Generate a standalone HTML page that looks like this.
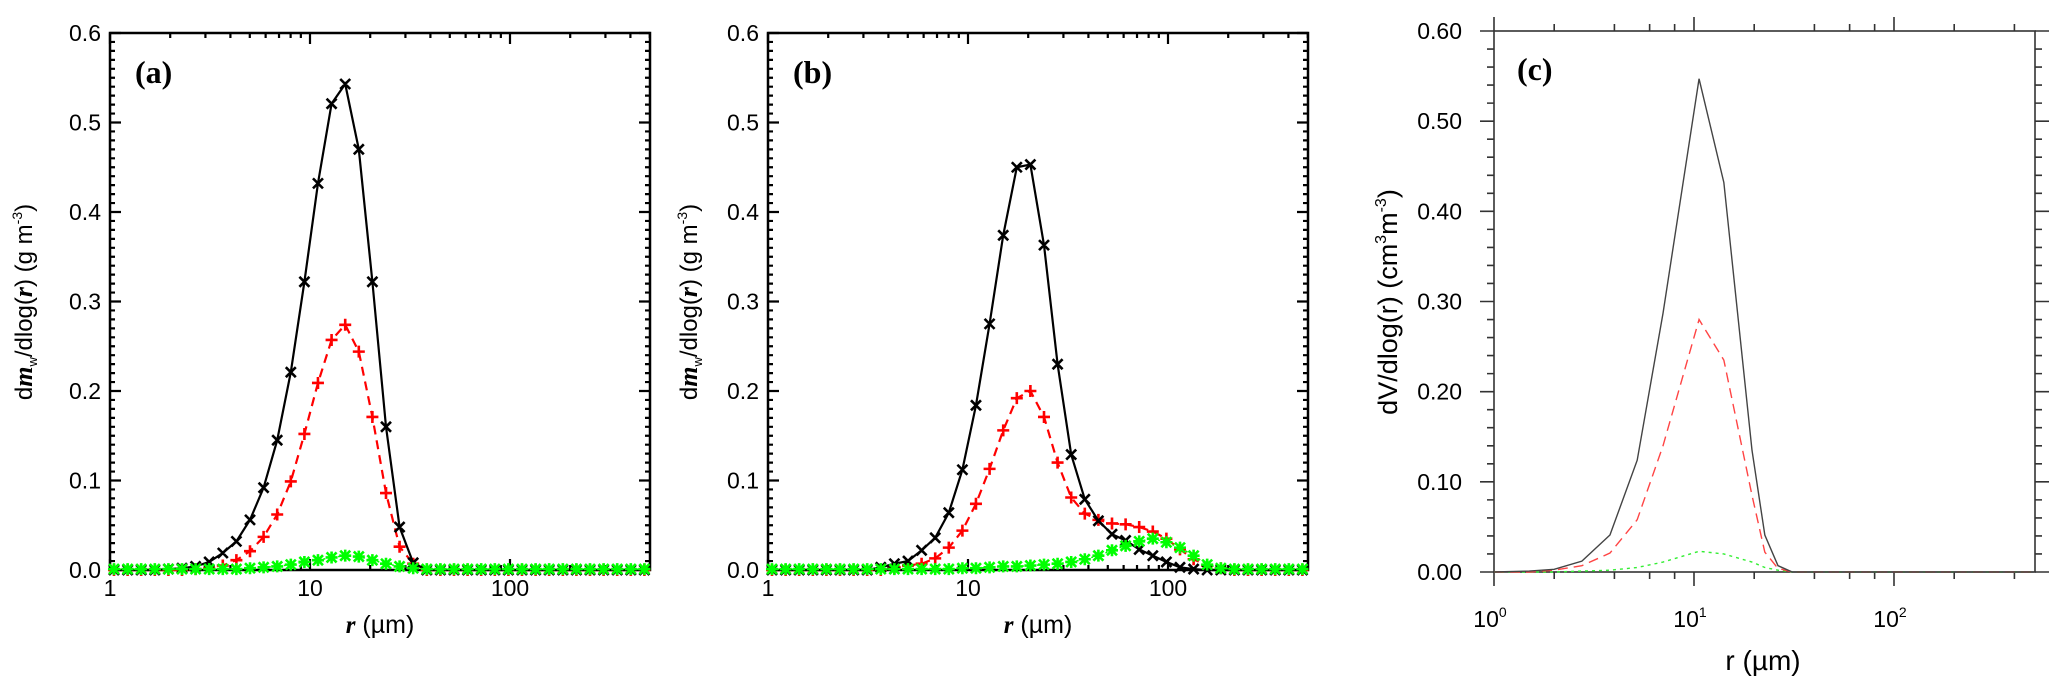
<!DOCTYPE html>
<html><head><meta charset="utf-8"><style>
html,body{margin:0;padding:0;background:#fff;}
svg{display:block;font-family:"Liberation Sans",sans-serif;}
</style></head><body>
<svg id="fig" width="2067" height="694" viewBox="0 0 2067 694" xmlns="http://www.w3.org/2000/svg"></svg>
<script>
// ---- data ----
const rBins = [1.047,1.225,1.432,1.675,1.959,2.291,2.679,3.133,3.664,4.285,5.012,5.861,6.855,8.017,9.376,10.96,12.82,15.00,17.54,20.51,23.99,28.05,32.81,38.37,44.87,52.48,61.38,71.78,83.95,98.17,114.8,134.3,157.0,183.7,214.8,251.2,293.8,343.6,401.8,469.9];
const blackA = [0,0,0,0,0.001,0.002,0.004,0.009,0.019,0.032,0.056,0.092,0.145,0.221,0.322,0.432,0.521,0.543,0.470,0.322,0.160,0.048,0.008,0,0,0,0,0,0,0,0,0,0,0,0,0,0,0,0,0];
const redA = [0,0,0,0,0,0,0.001,0.002,0.005,0.011,0.021,0.037,0.062,0.099,0.152,0.209,0.257,0.274,0.244,0.171,0.086,0.026,0.007,0,0,0,0,0,0,0,0,0,0,0,0,0,0,0,0,0];
const greenA = [0.001,0.001,0.001,0.001,0.001,0.001,0.001,0.001,0.001,0.001,0.002,0.003,0.004,0.006,0.009,0.011,0.014,0.016,0.015,0.011,0.007,0.004,0.002,0.001,0.001,0.001,0.001,0.001,0.001,0.001,0.001,0.001,0.001,0.001,0.001,0.001,0.001,0.001,0.001,0.001];
const blackB = [0,0,0,0,0,0,0,0,0.003,0.007,0.010,0.022,0.036,0.064,0.112,0.184,0.275,0.374,0.450,0.453,0.363,0.230,0.129,0.079,0.055,0.040,0.033,0.023,0.016,0.009,0.003,0.001,0,0,0,0,0,0,0,0];
const redB = [0,0,0,0,0,0,0,0,0,0.002,0.005,0.007,0.013,0.025,0.044,0.074,0.113,0.156,0.192,0.200,0.171,0.120,0.081,0.063,0.056,0.052,0.051,0.048,0.043,0.035,0.023,0.012,0.005,0.002,0,0,0,0,0,0];
const greenB = [0.001,0.001,0.001,0.001,0.001,0.001,0.001,0.001,0.001,0.001,0.001,0.001,0.001,0.001,0.002,0.002,0.003,0.004,0.004,0.005,0.006,0.007,0.009,0.012,0.016,0.022,0.027,0.032,0.035,0.031,0.025,0.016,0.006,0.002,0.001,0.001,0.001,0.001,0.001,0.001];
const rC = [1.0,1.5,2.0,2.75,3.8,5.2,7.0,10.6,14.1,19.5,22.6,26.3,31,40,500];
const blackC = [0,0.001,0.003,0.012,0.041,0.124,0.287,0.547,0.432,0.135,0.041,0.007,0,0,0];
const redC = [0,0,0.002,0.007,0.021,0.058,0.140,0.280,0.235,0.085,0.022,0.004,0,0,0];
const greenC = [0,0,0,0.001,0.002,0.005,0.011,0.023,0.020,0.011,0.005,0.002,0,0,0];
const yTicksAB = ["0.0","0.1","0.2","0.3","0.4","0.5","0.6"];
const xTicksAB = ["1","10","100"];
const yTicksC = ["0.00","0.10","0.20","0.30","0.40","0.50","0.60"];
const xTicksC = ["0","1","2"];

const NS="http://www.w3.org/2000/svg";
const svg=document.getElementById('fig');
function mk(tag,attrs,parent){const e=document.createElementNS(NS,tag);for(const k in attrs)e.setAttribute(k,attrs[k]);(parent||svg).appendChild(e);return e;}

function panel(L,T,R,B,lmax){
  return {L,T,R,B,x:r=>L+(R-L)*Math.log10(r)/lmax,y:v=>B-(B-T)*v/0.6};
}
const pA=panel(110,33,650,570,2.7), pB=panel(768,33,1308,570,2.7), pC=panel(1494,31,2035,572,2.705);

function framedAxes(p,name,labelX,titleX){
  const g=mk('g',{});
  
  
  mk('rect',{x:p.L,y:p.T,width:p.R-p.L,height:p.B-p.T,fill:'none',stroke:'#000','stroke-width':2.5},g);
  let d='';
  for(let k=0;k<=60;k++){const y=p.B-(p.B-p.T)*k/60;const len=k%10===0?11:5;
    d+=`M${p.L},${y}h${len}M${p.R},${y}h${-len}`;}
  for(let dec=0;dec<3;dec++)for(let m=1;m<10;m++){const r=m*Math.pow(10,dec);const lr=Math.log10(r);if(lr>2.7)continue;const x=p.x(r);const len=m===1?11:5;
    d+=`M${x},${p.B}v${-len}M${x},${p.T}v${len}`;}
  mk('path',{d,stroke:'#000','stroke-width':2.2,fill:'none'},g);
  yTicksAB.forEach((t,i)=>{const e=mk('text',{x:p.L-9,y:p.y(i*0.1)+8,'text-anchor':'end','font-size':23},g);e.textContent=t;
    });
  xTicksAB.forEach(t=>{const e=mk('text',{x:p.x(+t),y:596,'text-anchor':'middle','font-size':23},g);e.textContent=t;
    });
  const xt=mk('text',{x:(p.L+p.R)/2,y:633,'text-anchor':'middle','font-size':25},g);
  
  xt.innerHTML='<tspan font-family="Liberation Serif,serif" font-weight="bold" font-style="italic">r</tspan> (µm)';
  const yt=mk('text',{x:0,y:0,'text-anchor':'middle','font-size':24,transform:`translate(${labelX},302) rotate(-90)`},g);
  
  yt.innerHTML='d<tspan font-family="Liberation Serif,serif" font-weight="bold" font-style="italic" font-size="26">m</tspan><tspan font-size="13" dy="5">w</tspan><tspan dy="-5">/dlog(</tspan><tspan font-family="Liberation Serif,serif" font-weight="bold" font-style="italic" font-size="26">r</tspan>) (g m<tspan font-size="14" dy="-10">-3</tspan><tspan dy="10">)</tspan>';
  const pl=mk('text',{x:p.L+25,y:83,'font-size':32,'font-family':'Liberation Serif,serif','font-weight':'bold'},g);
  pl.textContent=titleX;
}

function series(p,xs,vals,color,dash,marker,name,sw){
  const g=mk('g',{});
  
  
  const pts=vals.map((v,i)=>[p.x(xs[i]),p.y(v)]);
  const a={points:pts.map(q=>q.join(',')).join(' '),fill:'none',stroke:color,'stroke-width':sw||2.2};
  if(dash)a['stroke-dasharray']=dash;
  mk('polyline',a,g);
  if(marker){let d='';const s=5;
    pts.forEach(([x,y])=>{
      if(marker==='x'||marker==='*')d+=`M${x-s},${y-s}L${x+s},${y+s}M${x-s},${y+s}L${x+s},${y-s}`;
      if(marker==='+'||marker==='*')d+=`M${x-s-1},${y}h${2*s+2}M${x},${y-s-1}v${2*s+2}`;});
    const m=mk('path',{d,stroke:color,'stroke-width':2.6,fill:'none'},g);
    }
}

framedAxes(pA,'panel-a',32,'(a)');
series(pA,rBins,redA,'#ff0000','9,6','+','red-series-a');
series(pA,rBins,blackA,'#000','', 'x','black-series-a');
series(pA,rBins,greenA,'#00ff00','2,3','*','green-series-a',1.5);
framedAxes(pB,'panel-b',697,'(b)');
series(pB,rBins,redB,'#ff0000','9,6','+','red-series-b');
series(pB,rBins,blackB,'#000','', 'x','black-series-b');
series(pB,rBins,greenB,'#00ff00','2,3','*','green-series-b',1.5);

// panel c
(function(){
  const p=pC;const g=mk('g',{});
  
  
  mk('rect',{x:p.L,y:p.T,width:p.R-p.L,height:p.B-p.T,fill:'none',stroke:'#333','stroke-width':1.6},g);
  let d='';
  for(let k=0;k<=30;k++){const y=p.B-(p.B-p.T)*k/30;const len=k%5===0?14:7;
    d+=`M${p.L},${y}h${-len}M${p.R},${y}h${len}`;}
  for(let dec=0;dec<3;dec++)[1,2,4,6,8].forEach(m=>{const r=m*Math.pow(10,dec);if(Math.log10(r)>2.7)return;const x=p.x(r);const len=m===1?14:7;
    d+=`M${x},${p.B}v${len}M${x},${p.T}v${-len}`;});
  mk('path',{d,stroke:'#333','stroke-width':1.6,fill:'none'},g);
  yTicksC.forEach((t,i)=>{const e=mk('text',{x:1462,y:p.y(i*0.1)+8,'text-anchor':'end','font-size':23},g);e.textContent=t;
    });
  xTicksC.forEach(t=>{const e=mk('text',{x:p.x(Math.pow(10,+t))-4,y:627,'text-anchor':'middle','font-size':23},g);
    e.innerHTML='10<tspan font-size="14" dy="-10">'+t+'</tspan>';
    });
  const xt=mk('text',{x:1763,y:670,'text-anchor':'middle','font-size':28},g);xt.textContent='r (µm)';
  
  const yt=mk('text',{x:0,y:0,'text-anchor':'middle','font-size':27,transform:'translate(1397,302) rotate(-90)'},g);
  yt.innerHTML='dV/dlog(r) (cm<tspan font-size="16" dy="-11">3</tspan><tspan dy="11">m</tspan><tspan font-size="16" dy="-11">-3</tspan><tspan dy="11">)</tspan>';
  
  const pl=mk('text',{x:1517,y:80,'font-size':32,'font-family':'Liberation Serif,serif','font-weight':'bold'},g);
  pl.textContent='(c)';
})();
series(pC,rC,greenC,'#33ee33','3,4',null,'green-series-c',1.4);
series(pC,rC,redC,'#ff4444','10,6',null,'red-series-c',1.4);
series(pC,rC,blackC,'#444','',null,'black-series-c',1.4);
</script>
</body></html>
